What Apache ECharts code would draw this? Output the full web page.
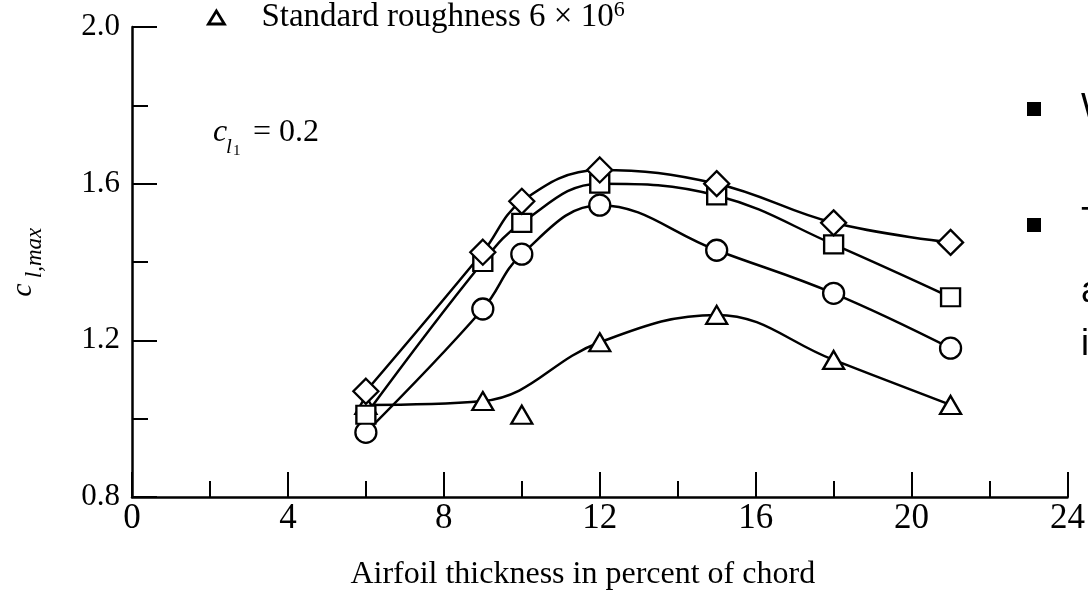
<!DOCTYPE html>
<html>
<head>
<meta charset="utf-8">
<script src="https://cdn.jsdelivr.net/npm/echarts@6/dist/echarts.min.js"></script>
<style>
  html, body { margin: 0; padding: 0; background: #fff; }
  #chart { width: 1088px; height: 607px; }
</style>
</head>
<body>
<div id="chart"></div>
<script>
// ---- data ----
const thickness = [6, 9, 10, 12, 15, 18, 21];
const diamondValues = [1.07, 1.425, 1.555, 1.635, 1.60, 1.50, 1.45];
const squareValues = [1.01, 1.40, 1.50, 1.60, 1.57, 1.445, 1.31];
const circleValues = [0.965, 1.28, 1.42, 1.545, 1.43, 1.32, 1.18];
const roughThickness = [6, 9, 12, 15, 18, 21];
const roughValues = [1.035, 1.045, 1.195, 1.265, 1.15, 1.035];
const strayThickness = [10];
const strayValues = [1.01];
const xTicks = [0, 4, 8, 12, 16, 20, 24];
const yTicks = [0.8, 1.2, 1.6, 2.0];
const roughName = 'Standard roughness 6 × 10^6';

const SERIF = '"Liberation Serif", "Times New Roman", serif';
const SANS = '"Liberation Sans", Arial, sans-serif';

const chart = echarts.init(document.getElementById('chart'), null, { renderer: 'canvas' });

function pairs(xs, ys) { return xs.map((x, i) => [x, ys[i]]); }

function curve(name, xs, ys, symbol, size) {
  return {
    type: 'line', name: name, data: pairs(xs, ys),
    smooth: 0.4, symbol: symbol, symbolSize: size, showAllSymbol: true,
    lineStyle: { color: '#000', width: 2.5 },
    itemStyle: { color: '#fff', borderColor: '#000', borderWidth: 2.3, opacity: 1 },
    emphasis: { disabled: true }, silent: true
  };
}

const option = {
  animation: false,
  backgroundColor: '#fff',
  grid: { left: 132, right: 15, top: 27, bottom: 110, containLabel: false },
  legend: {
    data: [roughName],
    left: 207, top: -1, padding: 0,
    icon: 'triangle', itemWidth: 16, itemHeight: 13,
    itemStyle: { color: '#fff', borderColor: '#000', borderWidth: 2.8 },
    formatter: function () { return '{sp|}{t|Standard roughness 6 × 10}{sup|6}'; },
    textStyle: {
      color: '#000',
      rich: {
        sp: { width: 32 },
        t: { fontSize: 33, lineHeight: 37, fontFamily: SERIF, color: '#000' },
        sup: { fontSize: 22, lineHeight: 22, verticalAlign: 'top', fontFamily: SERIF, color: '#000' }
      }
    },
    selectedMode: false
  },
  xAxis: {
    type: 'value', min: 0, max: 24, interval: 4,
    axisLine: { show: true, onZero: false, lineStyle: { color: '#000', width: 2.5 } },
    axisTick: { show: true, inside: true, length: 25, lineStyle: { color: '#000', width: 2 } },
    minorTick: { show: true, splitNumber: 2, length: 16, lineStyle: { color: '#000', width: 2 } },
    splitLine: { show: false }, minorSplitLine: { show: false },
    axisLabel: { color: '#000', fontSize: 35, fontFamily: SERIF, margin: 4,
      formatter: function (v) { return xTicks.indexOf(v) >= 0 ? String(v) : ''; } },
    name: 'Airfoil thickness in percent of chord',
    nameLocation: 'middle', nameGap: 62,
    nameTextStyle: { color: '#000', fontSize: 32, fontFamily: SERIF, padding: [0, 34, 0, 0] }
  },
  yAxis: {
    type: 'value', min: 0.8, max: 2.0, interval: 0.4,
    axisLine: { show: true, onZero: false, lineStyle: { color: '#000', width: 2.5 } },
    axisTick: { show: true, inside: true, length: 25, lineStyle: { color: '#000', width: 2 } },
    minorTick: { show: true, splitNumber: 2, length: 16, lineStyle: { color: '#000', width: 2 } },
    splitLine: { show: false }, minorSplitLine: { show: false },
    axisLabel: { color: '#000', fontSize: 31, fontFamily: SERIF, margin: 12,
      formatter: function (v) {
        const hit = yTicks.find(t => Math.abs(t - v) < 1e-6);
        return hit !== undefined ? hit.toFixed(1) : '';
      } }
  },
  series: [
    curve(roughName, roughThickness, roughValues, 'triangle', [21, 18]),
    curve('Circles', thickness, circleValues, 'circle', 21),
    curve('Squares', thickness, squareValues, 'rect', [19, 18]),
    curve('Diamonds', thickness, diamondValues, 'diamond', 25),
    {
      type: 'scatter', name: 'Standard roughness (off-curve point)',
      data: pairs(strayThickness, strayValues),
      symbol: 'triangle', symbolSize: [21, 18],
      itemStyle: { color: '#fff', borderColor: '#000', borderWidth: 2.3, opacity: 1 },
      emphasis: { disabled: true }, silent: true
    }
  ],
  graphic: [
    // y-axis title c_{l,max}
    { type: 'text', x: 23, y: 290, rotation: Math.PI / 2, silent: true,
      style: { text: 'c', font: 'italic 30px ' + SERIF, fill: '#000', align: 'center', verticalAlign: 'middle' } },
    { type: 'text', x: 35, y: 253, rotation: Math.PI / 2, silent: true,
      style: { text: 'l,max', font: 'italic 23px ' + SERIF, fill: '#000', align: 'center', verticalAlign: 'middle' } },
    // annotation c_{l1} = 0.2
    { type: 'text', x: 213, y: 133, silent: true,
      style: { text: 'c', font: 'italic 32px ' + SERIF, fill: '#000', align: 'left', verticalAlign: 'middle' } },
    { type: 'text', x: 226, y: 147, silent: true,
      style: { text: 'l', font: 'italic 21px ' + SERIF, fill: '#000', align: 'left', verticalAlign: 'middle' } },
    { type: 'text', x: 233, y: 151, silent: true,
      style: { text: '1', font: '15px ' + SERIF, fill: '#000', align: 'left', verticalAlign: 'middle' } },
    { type: 'text', x: 253, y: 133, silent: true,
      style: { text: '= 0.2', font: '32px ' + SERIF, fill: '#000', align: 'left', verticalAlign: 'middle' } },
    // slide bullets at right edge
    { type: 'rect', shape: { x: 1027, y: 102, width: 14, height: 14 }, style: { fill: '#000' }, silent: true },
    { type: 'rect', shape: { x: 1027, y: 218, width: 14, height: 14 }, style: { fill: '#000' }, silent: true },
    { type: 'text', x: 1081, y: 109, silent: true,
      style: { text: 'W', font: '36px ' + SANS, fill: '#000', align: 'left', verticalAlign: 'middle' } },
    { type: 'text', x: 1081, y: 223, silent: true,
      style: { text: 'T', font: '36px ' + SANS, fill: '#000', align: 'left', verticalAlign: 'middle' } },
    { type: 'text', x: 1081, y: 292, silent: true,
      style: { text: 'a', font: '36px ' + SANS, fill: '#000', align: 'left', verticalAlign: 'middle' } },
    { type: 'text', x: 1081, y: 345, silent: true,
      style: { text: 'i', font: '36px ' + SANS, fill: '#000', align: 'left', verticalAlign: 'middle' } }
  ]
};

chart.setOption(option);
</script>
</body>
</html>
